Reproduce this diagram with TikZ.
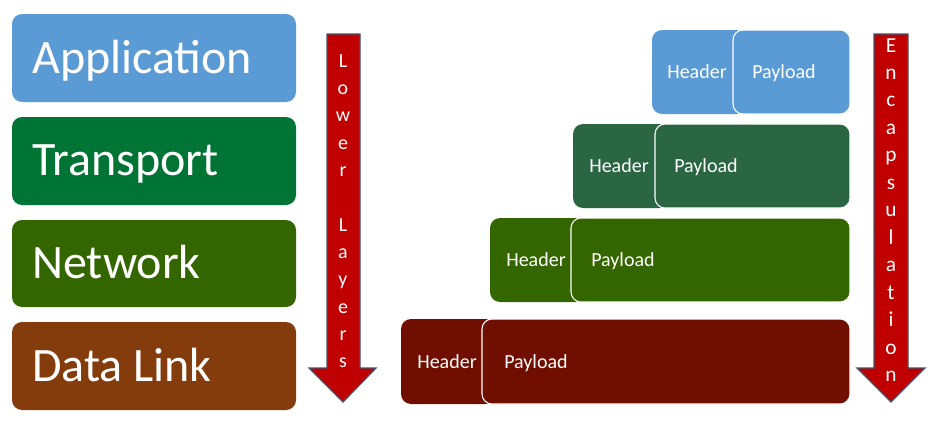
\documentclass[tikz,border=0pt]{standalone}
\usepackage{fontspec}
\setmainfont{Carlito}

\definecolor{appblue}{HTML}{5B9BD5}
\definecolor{transgreen}{HTML}{007434}
\definecolor{netgreen}{HTML}{346600}
\definecolor{linkbrown}{HTML}{843C0C}
\definecolor{pktgreen}{HTML}{2B6642}
\definecolor{pktred}{HTML}{700F00}
\definecolor{arrowred}{HTML}{C00000}
\definecolor{arrowedge}{HTML}{44546A}

\tikzset{
  layerbox/.style={rounded corners=7.5pt},
  layertext/.style={anchor=base west, inner sep=0pt, text=white, font=\fontsize{36}{40}\selectfont},
  pldbox/.style={rounded corners=7.5pt, draw=white, line width=0.8pt},
  hdrtext/.style={anchor=base, inner sep=0pt, text=white, font=\fontsize{15}{18}\selectfont},
  pldtext/.style={anchor=base west, inner sep=0pt, text=white, font=\fontsize{15}{18}\selectfont},
  downarrow/.style={fill=arrowred, draw=arrowedge, line width=1pt},
  arrowtext/.style={align=center, inner sep=0pt, text=white}
}

\begin{document}
\begin{tikzpicture}[x=0.75pt,y=-0.75pt]
\useasboundingbox (0,0) rectangle (939,446);

% layers
\fill [layerbox, appblue] (12,14) rectangle (296,102);
\node [layertext] (app) at (32,73) {Application};
\fill [layerbox, transgreen] (12,117) rectangle (296,205);
\node [layertext] (trans) at (32,175) {Transport};
\fill [layerbox, netgreen] (12,220) rectangle (296,307);
\node [layertext] (net) at (32,278) {Network};
\fill [layerbox, linkbrown] (12,322) rectangle (296,410);
\node [layertext] (link) at (32,381) {Data Link};

% lower layers arrow
\draw [downarrow] (327,34) -- (360,34) -- (360,368) -- (376,368) -- (343,402) -- (309,368) -- (327,368) -- cycle;
\node [arrowtext, font=\fontsize{15}{20.5}\selectfont] (lower) at (343,211)
  {L\\o\\w\\e\\r\\~\\L\\a\\y\\e\\r\\s};

% packets
\fill [layerbox, appblue] (652,30) rectangle (747,114);
\filldraw [pldbox, fill=appblue] (733,30) rectangle (850,114);
\node [hdrtext] (hdra) at (697,78.5) {Header};
\node [pldtext] (plda) at (752,78.5) {Payload};

\fill [layerbox, pktgreen] (573,124) rectangle (669,208);
\filldraw [pldbox, fill=pktgreen] (655,124) rectangle (850,208);
\node [hdrtext] (hdrt) at (619,172.5) {Header};
\node [pldtext] (pldt) at (674,172.5) {Payload};

\fill [layerbox, netgreen] (490,218) rectangle (585,302);
\filldraw [pldbox, fill=netgreen] (571,218) rectangle (850,302);
\node [hdrtext] (hdrn) at (536,266.5) {Header};
\node [pldtext] (pldn) at (591,266.5) {Payload};

\fill [layerbox, pktred] (401,319) rectangle (496,404);
\filldraw [pldbox, fill=pktred] (482,319) rectangle (850,404);
\node [hdrtext] (hdrl) at (447,368) {Header};
\node [pldtext] (pldl) at (504,368) {Payload};

% encapsulation arrow
\draw [downarrow] (874,34) -- (908,34) -- (908,368) -- (925,368) -- (891,402) -- (857,368) -- (874,368) -- cycle;
\node [arrowtext, font=\fontsize{16}{20.6}\selectfont] (encap) at (891,210)
  {E\\n\\c\\a\\p\\s\\u\\l\\a\\t\\i\\o\\n};

\end{tikzpicture}
\end{document}
